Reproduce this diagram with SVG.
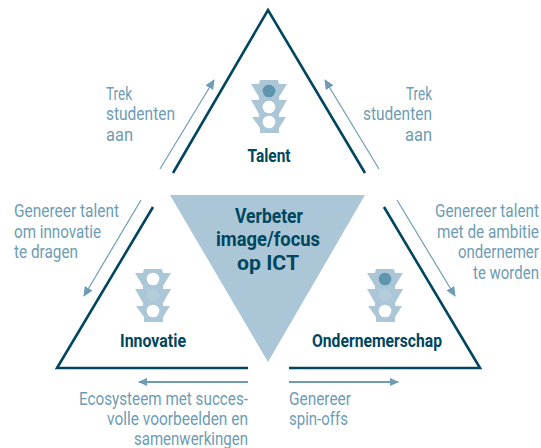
<svg xmlns="http://www.w3.org/2000/svg" width="541" height="448" viewBox="0 0 541 448">
<style>
.edge{fill:none;stroke:#00465f;stroke-width:2.6;stroke-linejoin:miter}
.arr{fill:none;stroke:#6d9cb4;stroke-width:1.2;marker-end:url(#ah)}
.arrb{fill:none;stroke:#6d9cb4;stroke-width:1.8;marker-end:url(#ah2)}
.t{font-family:"Roboto","Liberation Sans",sans-serif;font-size:19px;fill:#6d9cb4}
.b{font-family:"Roboto","Liberation Sans",sans-serif;font-weight:700;fill:#00465f}
.l{font-size:18px}
.c{font-size:21px}
.body{fill:#abc6d6}.on{fill:#5f94ad}.off{fill:#fff}.dim{fill:#b3ccda}
</style>
<defs>
<marker id="ah" markerUnits="userSpaceOnUse" markerWidth="12" markerHeight="10" refX="9" refY="4.5" orient="auto"><path d="M0 0L10 4.5L0 9Z" fill="#6d9cb4"/></marker>
<marker id="ah2" markerUnits="userSpaceOnUse" markerWidth="12" markerHeight="10" refX="8" refY="4" orient="auto"><path d="M0 0L9 4L0 8Z" fill="#6d9cb4"/></marker>
<path id="tl" d="M-9 0H9L10 4H18L10 17V20H18L10 34V37H17L10 48V53H-9V48L-17 37H-10V34L-18 20H-10V17L-18 4H-10Z"/>
</defs>
<polygon id="center-shape" points="170,195 365,195 268,362" fill="#abc6d6"/>
<g id="connectors">
<path class="arr" d="M160 169L214 80"/>
<path class="arr" d="M379 169L325 80"/>
<path class="arr" d="M141 200L84 296"/>
<path class="arr" d="M397 200L455 296"/>
<path class="arrb" d="M248 382H139"/>
<path class="arrb" d="M289 382H398"/>
</g>
<g id="talent">
<path class="edge" d="M173 173L268 10L365 173"/>
<use href="#tl" x="269" y="80" class="body"/>
<circle cx="269" cy="91" r="6.3" class="on"/><circle cx="269" cy="107" r="6.3" class="off"/><circle cx="269" cy="122" r="6.3" class="off"/>
<text class="b l" transform="matrix(.88 0 0 1 247.500 162)" textLength="48.900" lengthAdjust="spacingAndGlyphs">Talent</text>
</g>
<g id="innovatie">
<path class="edge" d="M153 207L57 368H248"/>
<use href="#tl" x="153" y="269" class="body"/>
<circle cx="153" cy="279" r="6.3" class="off"/><circle cx="153" cy="295" r="6.3" class="dim"/><circle cx="153" cy="311" r="6.3" class="off"/>
<text class="b l" transform="matrix(.88 0 0 1 120 347)" textLength="75" lengthAdjust="spacingAndGlyphs">Innovatie</text>
</g>
<g id="ondernemerschap">
<path class="edge" d="M384 207L480 368H289"/>
<use href="#tl" x="385" y="269" class="body"/>
<circle cx="385" cy="279" r="6.3" class="on"/><circle cx="385" cy="295" r="6.3" class="dim"/><circle cx="385" cy="311" r="6.3" class="off"/>
<text class="b l" transform="matrix(.88 0 0 1 312 347)" textLength="147.700" lengthAdjust="spacingAndGlyphs">Ondernemerschap</text>
</g>
<g id="center">
<text class="b c" transform="matrix(.94 0 0 1 235 223)" textLength="72.300" lengthAdjust="spacingAndGlyphs">Verbeter</text>
<text class="b c" transform="matrix(.94 0 0 1 216 246)" textLength="110.600" lengthAdjust="spacingAndGlyphs">image/focus</text>
<text class="b c" transform="matrix(.94 0 0 1 237 270)" textLength="66" lengthAdjust="spacingAndGlyphs">op ICT</text>
</g>
<g id="labels">
<text class="t" transform="matrix(.83 0 0 1 106 100)" textLength="31.300" lengthAdjust="spacingAndGlyphs">Trek</text>
<text class="t" transform="matrix(.83 0 0 1 106 120)" textLength="83.100" lengthAdjust="spacingAndGlyphs">studenten</text>
<text class="t" transform="matrix(.83 0 0 1 106 141)" textLength="32.500" lengthAdjust="spacingAndGlyphs">aan</text>
<text class="t" transform="matrix(.83 0 0 1 406 100)" textLength="31.300" lengthAdjust="spacingAndGlyphs">Trek</text>
<text class="t" transform="matrix(.83 0 0 1 363 120)" textLength="83.100" lengthAdjust="spacingAndGlyphs">studenten</text>
<text class="t" transform="matrix(.83 0 0 1 405 141)" textLength="32.500" lengthAdjust="spacingAndGlyphs">aan</text>
<text class="t" transform="matrix(.83 0 0 1 14 217)" textLength="126.500" lengthAdjust="spacingAndGlyphs">Genereer talent</text>
<text class="t" transform="matrix(.83 0 0 1 14 238)" textLength="104.800" lengthAdjust="spacingAndGlyphs">om innovatie</text>
<text class="t" transform="matrix(.83 0 0 1 14 258)" textLength="77.100" lengthAdjust="spacingAndGlyphs">te dragen</text>
<text class="t" transform="matrix(.83 0 0 1 435 217)" textLength="125.300" lengthAdjust="spacingAndGlyphs">Genereer talent</text>
<text class="t" transform="matrix(.83 0 0 1 437 238)" textLength="122.900" lengthAdjust="spacingAndGlyphs">met de ambitie</text>
<text class="t" transform="matrix(.76 0 0 1 458 258)" textLength="106.500" lengthAdjust="spacingAndGlyphs">ondernemer</text>
<text class="t" transform="matrix(.83 0 0 1 473 279)" textLength="79.500" lengthAdjust="spacingAndGlyphs">te worden</text>
<text class="t" transform="matrix(.83 0 0 1 79 405)" textLength="203.600" lengthAdjust="spacingAndGlyphs">Ecosysteem met succes-</text>
<text class="t" transform="matrix(.83 0 0 1 107 425)" textLength="169.900" lengthAdjust="spacingAndGlyphs">volle voorbeelden en</text>
<text class="t" transform="matrix(.83 0 0 1 134 445)" textLength="137.300" lengthAdjust="spacingAndGlyphs">samenwerkingen</text>
<text class="t" transform="matrix(.83 0 0 1 289 405)" textLength="74.700" lengthAdjust="spacingAndGlyphs">Genereer</text>
<text class="t" transform="matrix(.83 0 0 1 289 425)" textLength="71.100" lengthAdjust="spacingAndGlyphs">spin-offs</text>
</g>
</svg>
